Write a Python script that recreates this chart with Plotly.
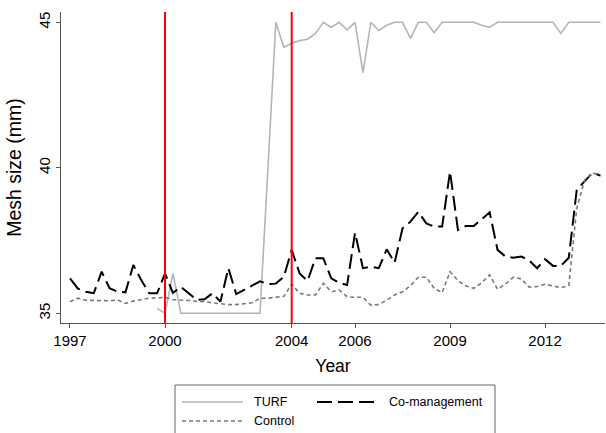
import numpy as np
import plotly.graph_objects as go

# ---------------- data (quarterly, 1997.00 .. 2013.75) ----------------
start_year = 1997
quarters_per_year = 4

turf = [None, None, None, None,        # 1997
        None, None, None, None,        # 1998
        None, None, None, 35.17,       # 1999
        35.0, 36.37, 35.0, 35.0,       # 2000
        35.0, 35.0, 35.0, 35.0,        # 2001
        35.0, 35.0, 35.0, 35.0,        # 2002
        35.0, None, 45.0, 44.14,       # 2003
        44.28, 44.37, 44.42, 44.62,    # 2004
        45.0, 44.83, 45.0, 44.74,      # 2005
        45.0, 43.27, 45.0, 44.72,      # 2006
        44.9, 45.0, 45.0, 44.45,       # 2007
        45.0, 45.0, 44.64, 45.0,       # 2008
        45.0, 45.0, 45.0, 45.0,        # 2009
        44.9, 44.83, 45.0, 45.0,       # 2010
        45.0, 45.0, 45.0, 45.0,        # 2011
        45.0, 45.0, 44.62, 45.0,       # 2012
        45.0, 45.0, 45.0, 45.0]        # 2013

co_management = [36.20, 35.85, 35.74, 35.69,   # 1997
                 36.43, 35.86, 35.74, 35.72,   # 1998
                 36.66, 36.14, 35.69, 35.69,   # 1999
                 36.37, 35.70, 35.91, 35.69,   # 2000
                 35.46, 35.48, 35.69, 35.40,   # 2001
                 36.55, 35.66, 35.80, 35.95,   # 2002
                 36.10, 36.00, 36.02, 36.25,   # 2003
                 37.18, 36.37, 36.11, 36.89,   # 2004
                 36.89, 36.20, 36.05, 35.97,   # 2005
                 37.77, 36.55, 36.60, 36.55,   # 2006
                 37.20, 36.74, 37.92, 38.15,   # 2007
                 38.49, 38.09, 37.98, 37.98,   # 2008
                 39.87, 37.86, 38.00, 38.00,   # 2009
                 38.24, 38.47, 37.18, 36.95,   # 2010
                 36.91, 36.95, 36.82, 36.55,   # 2011
                 36.86, 36.63, 36.63, 36.91,   # 2012
                 39.24, 39.52, 39.83, 39.73]   # 2013

control = [35.40, 35.52, 35.45, 35.44,   # 1997
           35.44, 35.43, 35.46, 35.34,   # 1998
           35.42, 35.48, 35.52, 35.53,   # 1999
           35.55, 35.47, 35.46, 35.44,   # 2000
           35.41, 35.40, 35.36, 35.32,   # 2001
           35.30, 35.30, 35.32, 35.36,   # 2002
           35.52, 35.52, 35.55, 35.58,   # 2003
           36.00, 35.69, 35.63, 35.63,   # 2004
           36.03, 35.74, 35.80, 35.57,   # 2005
           35.55, 35.55, 35.28, 35.30,   # 2006
           35.45, 35.63, 35.74, 35.95,   # 2007
           36.24, 36.24, 35.86, 35.71,   # 2008
           36.43, 36.12, 35.94, 35.86,   # 2009
           36.05, 36.32, 35.83, 36.00,   # 2010
           36.24, 36.18, 35.90, 35.92,   # 2011
           36.00, 35.95, 35.88, 35.95,   # 2012
           38.60, 39.58, 39.83, 39.72]   # 2013

series_names = ["TURF", "Co-management", "Control"]
intervention_years = [2000, 2004]
x_tick_vals = [1997, 2000, 2004, 2006, 2009, 2012]
y_tick_vals = [35, 40, 45]

n = len(control)
years = start_year + np.arange(n) / quarters_per_year

# ---------------- styles ----------------
FONT = "Liberation Sans, Arial, sans-serif"
styles = {
    "TURF": dict(color="#b5b5b5", width=1.6, dash="solid"),
    "Co-management": dict(color="#000000", width=2, dash="15px,6px"),
    "Control": dict(color="#7a7a7a", width=1.6, dash="4px,3px"),
}
values = {"TURF": turf, "Co-management": co_management, "Control": control}

W, H = 606, 433
ML, MR, MT, MB = 61, 1, 12, 110
PW, PH = W - ML - MR, H - MT - MB

fig = go.Figure()
for name in series_names:
    fig.add_trace(go.Scatter(
        x=years, y=values[name], mode="lines", name=name,
        line=styles[name], connectgaps=True, showlegend=False))

for yr in intervention_years:
    fig.add_shape(type="line", xref="x", yref="paper", x0=yr, x1=yr, y0=0, y1=1,
                  line=dict(color="#ff0000", width=2), layer="above")

# ---------------- manual legend (Stata style) ----------------
def px_to_paper(px, py):
    return (px - ML) / PW, (H - MB - py) / PH

bx0, by0 = px_to_paper(175, 385)
bx1, by1 = px_to_paper(495, 445)
fig.add_shape(type="rect", xref="paper", yref="paper", x0=bx0, x1=bx1, y0=by0, y1=by1,
              line=dict(color="#666666", width=1), fillcolor="white", layer="above")

legend_pos = {"TURF": (182, 402), "Co-management": (317, 402), "Control": (182, 421)}
for name in series_names:
    sx, sy = legend_pos[name]
    x0, y0 = px_to_paper(sx, sy)
    x1, _ = px_to_paper(sx + 61, sy)
    st = styles[name]
    fig.add_shape(type="line", xref="paper", yref="paper", x0=x0, x1=x1, y0=y0, y1=y0,
                  line=dict(color=st["color"], width=st["width"], dash=st["dash"]), layer="above")
    tx, _ = px_to_paper(sx + 70, sy)
    fig.add_annotation(xref="paper", yref="paper", x=tx, y=y0, text=name, showarrow=False,
                       xanchor="left", yanchor="middle",
                       font=dict(family=FONT, size=12.5, color="black"))

axis_common = dict(showline=True, linecolor="#555555", linewidth=1, ticks="outside",
                   ticklen=4, tickcolor="#555555", showgrid=False, zeroline=False,
                   tickfont=dict(family=FONT, size=15, color="black"))

fig.update_layout(
    width=W, height=H, margin=dict(l=ML, r=MR, t=MT, b=MB, autoexpand=False),
    paper_bgcolor="white", plot_bgcolor="white",
    font=dict(family=FONT, color="black"),
    xaxis=dict(range=[1996.716, 2013.893], tickvals=x_tick_vals,
               title=dict(text="Year", font=dict(family=FONT, size=17.5), standoff=11),
               **axis_common),
    yaxis=dict(range=[34.667, 45.354], tickvals=y_tick_vals, tickangle=-90,
               title=dict(text="Mesh size (mm)", font=dict(family=FONT, size=19.5), standoff=9),
               **axis_common),
)

fig.write_html("out.html")
